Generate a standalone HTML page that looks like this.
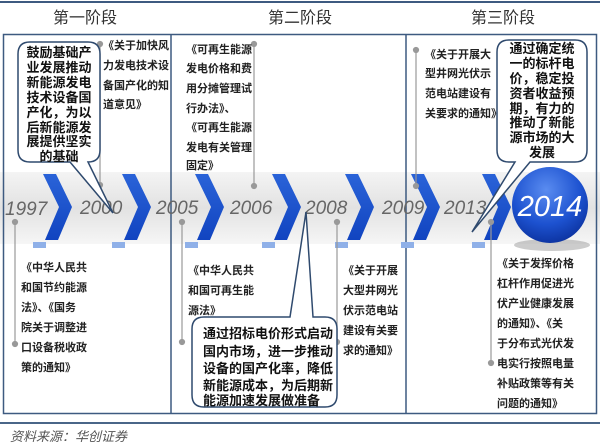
<!DOCTYPE html>
<html><head><meta charset="utf-8"><style>
body{margin:0;background:#fff;}
svg{display:block;font-family:"Liberation Sans","Noto Sans CJK SC",sans-serif;}
.b{font-size:11px;font-weight:bold;fill:#222;}
.c{font-size:13px;font-weight:bold;fill:#111;}
.y{font-size:19px;font-style:italic;fill:#666;}
</style></head><body>
<svg width="600" height="446" viewBox="0 0 600 446">
<defs>
<linearGradient id="band" x1="0" y1="0" x2="0" y2="1">
<stop offset="0" stop-color="#f4f4f4"/><stop offset="0.5" stop-color="#e2e2e2"/><stop offset="1" stop-color="#f6f6f6"/></linearGradient>
<linearGradient id="chev" x1="0" y1="0" x2="0" y2="1">
<stop offset="0" stop-color="#2a63d8"/><stop offset="1" stop-color="#1144c0"/></linearGradient>
<radialGradient id="ball" cx="0.45" cy="0.3" r="0.75">
<stop offset="0" stop-color="#5a8cf0"/><stop offset="0.6" stop-color="#1d52d0"/><stop offset="1" stop-color="#0a2f9a"/></radialGradient>
<g id="cv"><polygon points="0,0 13,0 29,33 15,66 2,66 16,33" fill="url(#chev)"/><rect x="-10" y="68" width="13" height="6" fill="#8fb0e8"/></g>
</defs>
<line x1="0" y1="2" x2="600" y2="2" stroke="#3d5a80" stroke-width="2"/>
<text x="85" y="23" font-size="16" text-anchor="middle" fill="#333">第一阶段</text>
<text x="300" y="23" font-size="16" text-anchor="middle" fill="#333">第二阶段</text>
<text x="503" y="23" font-size="16" text-anchor="middle" fill="#333">第三阶段</text>
<rect x="0" y="172" width="600" height="72" fill="url(#band)"/>
<rect x="3.5" y="34.5" width="593" height="379" fill="none" stroke="#3d5a80" stroke-width="1.5"/>
<line x1="171" y1="34" x2="171" y2="413" stroke="#3d5a80" stroke-width="1.5"/>
<line x1="406" y1="34" x2="406" y2="413" stroke="#3d5a80" stroke-width="1.5"/>
<line x1="0" y1="423" x2="600" y2="423" stroke="#4a6688" stroke-width="2"/>
<use href="#cv" x="43" y="174"/><use href="#cv" x="122" y="174"/><use href="#cv" x="195" y="174"/><use href="#cv" x="272" y="174"/>
<use href="#cv" x="345" y="174"/><use href="#cv" x="411" y="174"/><use href="#cv" x="482" y="174"/>
<text class="y" x="5" y="215">1997</text><text class="y" x="80" y="214">2000</text><text class="y" x="156" y="214">2005</text>
<text class="y" x="230" y="214">2006</text><text class="y" x="305" y="214">2008</text><text class="y" x="382" y="214">2009</text><text class="y" x="444" y="214">2013</text>
<ellipse cx="552" cy="245" rx="38" ry="6" fill="#999" opacity="0.5"/>
<circle cx="550" cy="205" r="38" fill="url(#ball)"/>
<text x="550" y="216" font-size="29" font-style="italic" fill="#fff" text-anchor="middle">2014</text>
<g stroke="#999" stroke-width="1.2" fill="#999">
<line x1="100" y1="44" x2="100" y2="185"/><circle cx="100" cy="44" r="2.5"/><circle cx="100" cy="185" r="2.5"/>
<line x1="254" y1="44" x2="254" y2="186"/><circle cx="254" cy="44" r="2.5"/><circle cx="254" cy="186" r="2.5"/>
<line x1="416" y1="50" x2="416" y2="186"/><circle cx="416" cy="50" r="2.5"/><circle cx="416" cy="186" r="2.5"/>
<line x1="15" y1="222" x2="15" y2="344"/><circle cx="15" cy="222" r="2.5"/><circle cx="15" cy="344" r="2.5"/>
<line x1="182" y1="222" x2="182" y2="342"/><circle cx="182" cy="222" r="2.5"/><circle cx="182" cy="342" r="2.5"/>
<line x1="337" y1="222" x2="337" y2="342"/><circle cx="337" cy="222" r="2.5"/><circle cx="337" cy="342" r="2.5"/>
<line x1="491" y1="222" x2="491" y2="363"/><circle cx="491" cy="222" r="2.5"/><circle cx="491" cy="363" r="2.5"/>
</g>
<g fill="#fff" stroke="#2f4a6e" stroke-width="1.5">
<path d="M30,42 H88 Q100,42 100,54 V150 Q100,162 88,162 H88 L113,213 L70,162 H30 Q18,162 18,150 V54 Q18,42 30,42 Z"/>
<path d="M509,40 H575 Q587,40 587,52 V150 Q587,162 575,162 H530 L472,232 L515,162 H509 Q497,162 497,150 V52 Q497,40 509,40 Z"/>
<path d="M204,317 H290 L306,212 L313,317 H325 Q337,317 337,329 V395 Q337,407 325,407 H204 Q192,407 192,395 V329 Q192,317 204,317 Z"/>
</g>
<g class="c" text-anchor="middle">
<text x="59" y="57">鼓励基础产</text><text x="59" y="72">业发展推动</text><text x="59" y="87">新能源发电</text><text x="59" y="102">技术设备国</text><text x="59" y="117">产化，为以</text><text x="59" y="132">后新能源发</text><text x="59" y="146">展提供坚实</text><text x="59" y="161">的基础</text>
<text x="542" y="53">通过确定统</text><text x="542" y="68">一的标杆电</text><text x="542" y="83">价，稳定投</text><text x="542" y="98">资者收益预</text><text x="542" y="113">期，有力的</text><text x="542" y="127">推动了新能</text><text x="542" y="142">源市场的大</text><text x="542" y="157">发展</text>
</g>
<g class="c">
<text x="203" y="338">通过招标电价形式启动</text><text x="203" y="356">国内市场，进一步推动</text><text x="203" y="373">设备的国产化率，降低</text><text x="203" y="390">新能源成本，为后期新</text><text x="203" y="405">能源加速发展做准备</text>
</g>
<g class="b">
<text x="103" y="49">《关于加快风</text><text x="103" y="69">力发电技术设</text><text x="103" y="89">备国产化的知</text><text x="103" y="108">道意见》</text>
<text x="186" y="53">《可再生能源</text><text x="186" y="72">发电价格和费</text><text x="186" y="92">用分摊管理试</text><text x="186" y="112">行办法》、</text><text x="186" y="131">《可再生能源</text><text x="186" y="151">发电有关管理</text><text x="186" y="169">固定》</text>
<text x="425" y="58">《关于开展大</text><text x="425" y="77">型井网光伏示</text><text x="425" y="97">范电站建设有</text><text x="425" y="117">关要求的通知》</text>
<text x="21" y="271">《中华人民共</text><text x="21" y="291">和国节约能源</text><text x="21" y="311">法》、《国务</text><text x="21" y="331">院关于调整进</text><text x="21" y="351">口设备税收政</text><text x="21" y="371">策的通知》</text>
<text x="188" y="274">《中华人民共</text><text x="188" y="294">和国可再生能</text><text x="188" y="314">源法》</text>
<text x="343" y="274">《关于开展</text><text x="343" y="294">大型井网光</text><text x="343" y="314">伏示范电站</text><text x="343" y="334">建设有关要</text><text x="343" y="354">求的通知》</text>
<text x="497" y="267">《关于发挥价格</text><text x="497" y="287">杠杆作用促进光</text><text x="497" y="307">伏产业健康发展</text><text x="497" y="327">的通知》、《关</text><text x="497" y="347">于分布式光伏发</text><text x="497" y="367">电实行按照电量</text><text x="497" y="387">补贴政策等有关</text><text x="497" y="407">问题的通知》</text>
</g>
<text x="10" y="441" font-size="13" font-style="italic" fill="#555">资料来源：华创证券</text>
</svg>
</body></html>
